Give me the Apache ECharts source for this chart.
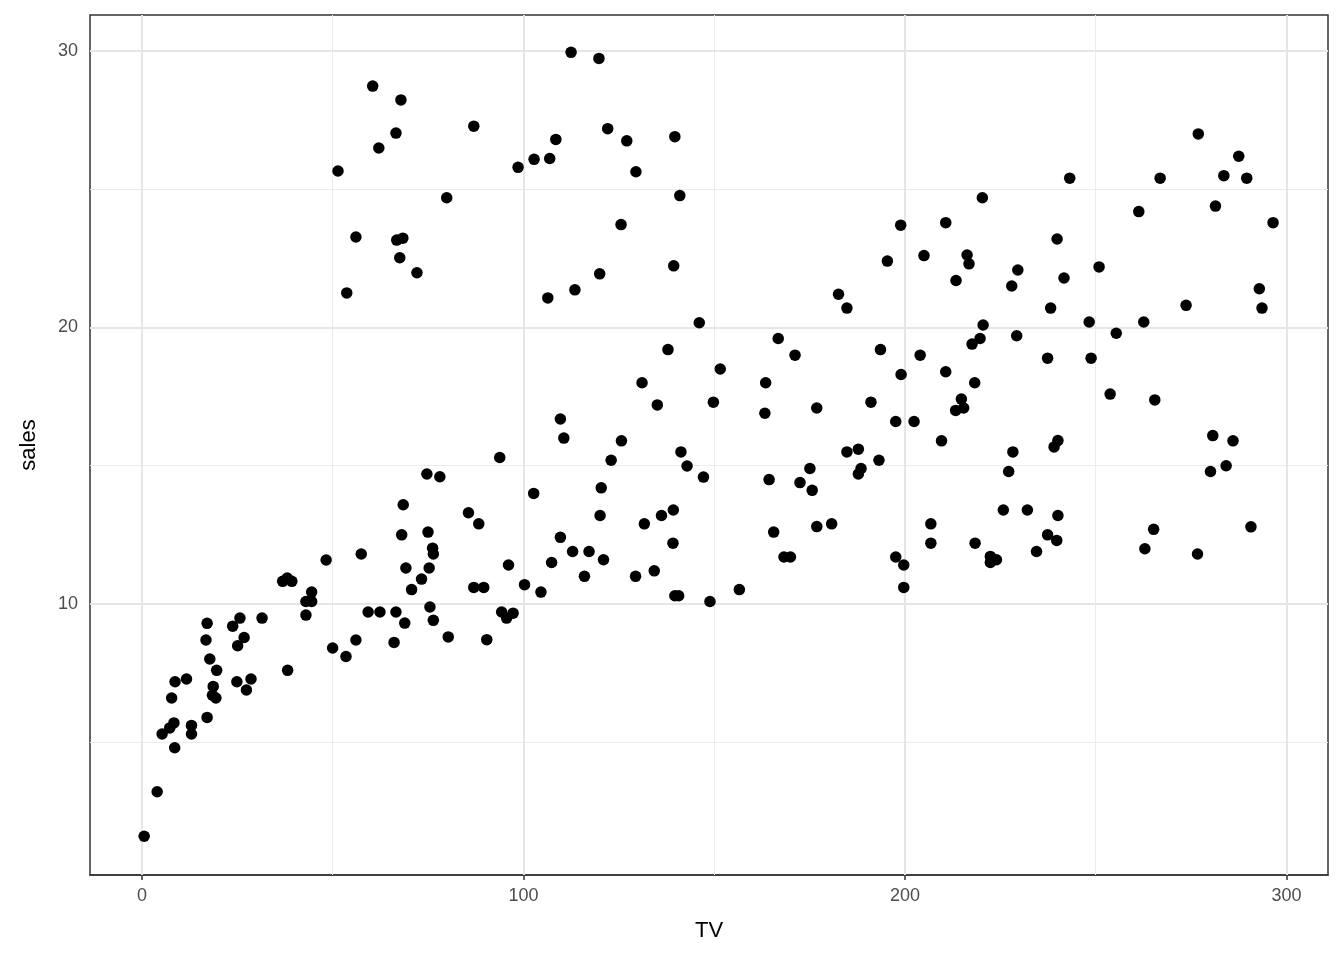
<!DOCTYPE html>
<html>
<head>
<meta charset="utf-8">
<script src="https://cdn.jsdelivr.net/npm/echarts@6/dist/echarts.min.js"></script>
<style>html,body{margin:0;padding:0;background:#fff}#c{width:1344px;height:960px}</style>
</head>
<body>
<div id="c"></div>
<script>
var tv = [60.5,62.1,66.6,67.9,51.4,56.1,66.8,68.4,67.6,72.1,53.7,79.9,87.0,98.6,102.8,106.9,108.5,112.5,119.8,122.1,127.1,129.5,139.7,141.0,125.6,106.4,113.5,120.0,139.4,
220.3,198.9,210.7,195.4,205.0,216.3,216.8,213.4,228.0,229.6,182.6,184.8,276.9,287.5,283.6,289.6,266.9,243.2,261.3,281.4,296.5,239.9,250.9,241.7,292.9,238.2,273.7,293.6,
166.8,171.2,151.6,163.5,149.8,163.3,176.9,193.6,204.0,199.0,220.5,219.7,217.6,229.3,210.7,218.3,214.8,213.3,215.4,191.1,197.6,202.4,209.6,184.8,187.8,193.2,188.5,187.8,175.1,164.4,172.5,175.7,165.6,176.9,180.8,168.3,170.0,156.6,197.6,199.7,199.7,206.8,206.8,218.4,225.8,228.3,227.2,222.4,224.0,222.4,
248.3,262.6,255.4,237.4,248.8,253.8,265.5,280.7,286.0,284.2,280.1,240.1,239.1,232.1,240.1,237.4,239.8,234.5,265.2,262.9,276.7,290.7,
68.5,68.1,74.7,78.1,85.6,88.3,75.0,76.2,76.4,69.2,75.3,73.3,70.7,87.0,89.6,96.1,93.8,100.3,104.6,102.7,109.7,110.6,123.0,125.7,120.4,120.1,109.7,112.9,117.2,121.0,107.4,116.0,129.4,134.3,131.7,136.2,139.3,139.2,139.7,140.7,146.1,137.9,131.1,135.1,141.3,142.9,147.2,148.9,
48.3,57.5,36.9,38.1,39.3,44.5,
0.6,4.0,8.6,5.3,7.3,8.4,13.0,13.0,17.1,7.8,8.7,11.7,18.7,18.5,19.4,19.6,17.8,16.8,17.1,24.9,28.6,27.4,25.1,26.8,23.8,25.7,31.5,38.2,43.0,43.0,44.5,50.0,53.5,56.1,59.3,62.4,66.1,66.6,
75.5,76.4,68.9,80.3,90.4,94.3,95.6,97.3];
var sales = [28.73,26.49,27.03,28.23,25.66,23.27,23.16,23.23,22.52,21.98,21.25,24.69,27.28,25.79,26.08,26.11,26.80,29.95,29.73,27.19,26.75,25.63,26.90,24.77,23.72,21.07,21.36,21.94,22.23,
24.69,23.70,23.79,22.40,22.60,22.62,22.30,21.70,21.50,22.08,21.20,20.70,27.00,26.19,25.49,25.40,25.40,25.40,24.19,24.39,23.79,23.20,22.19,21.79,21.40,20.70,20.80,20.70,
19.60,19.00,18.50,18.00,17.30,16.90,17.09,19.20,19.00,18.30,20.09,19.60,19.40,19.70,18.40,18.00,17.41,17.00,17.09,17.30,16.60,16.60,15.90,15.50,15.60,15.20,14.90,14.70,14.90,14.50,14.39,14.11,12.60,12.80,12.90,11.70,11.70,10.52,11.70,11.41,10.60,12.90,12.20,12.20,13.40,15.50,14.79,11.72,11.60,11.50,
20.20,20.20,19.79,18.89,18.89,17.59,17.38,16.09,15.90,15.00,14.79,15.91,15.68,13.40,13.20,12.50,12.30,11.90,12.70,12.00,11.81,12.79,
13.59,12.50,14.70,14.60,13.30,12.90,12.60,12.02,11.81,11.30,11.30,10.90,10.52,10.60,10.60,11.41,15.30,10.70,10.43,14.00,16.69,16.00,15.20,15.90,14.20,13.20,12.41,11.90,11.90,11.60,11.50,11.00,11.00,11.20,12.90,13.20,13.40,12.20,10.30,10.30,20.17,19.20,18.00,17.20,15.50,14.99,14.59,10.09,
11.59,11.81,10.82,10.94,10.82,10.43,
1.60,3.21,4.80,5.30,5.52,5.70,5.61,5.30,5.90,6.60,7.19,7.29,7.02,6.70,6.60,7.60,8.01,8.70,9.30,7.19,7.29,6.89,8.49,8.79,9.20,9.49,9.49,7.60,9.60,10.09,10.09,8.41,8.10,8.70,9.71,9.71,8.61,9.71,
9.89,9.41,9.31,8.81,8.71,9.71,9.49,9.67];

var xTicks = [0, 100, 200, 300];
var yTicks = [10, 20, 30];
var xMinor = [50, 150, 250];
var yMinor = [5, 15, 25];

var points = tv.map(function (v, i) { return [v, sales[i]]; });

var majorStyle = { color: '#E6E6E6', width: 2, type: 'solid', opacity: 1 };
var minorStyle = { color: '#EBEBEB', width: 1, type: 'solid', opacity: 1 };
var gridLines = []
  .concat(xMinor.map(function (v) { return { xAxis: v, lineStyle: minorStyle }; }))
  .concat(yMinor.map(function (v) { return { yAxis: v, lineStyle: minorStyle }; }))
  .concat(xTicks.map(function (v) { return { xAxis: v, lineStyle: majorStyle }; }))
  .concat(yTicks.map(function (v) { return { yAxis: v, lineStyle: majorStyle }; }));

var font = '"Liberation Sans", Arial, Helvetica, sans-serif';
var chart = echarts.init(document.getElementById('c'), null, { renderer: 'canvas' });
chart.setOption({
  animation: false,
  backgroundColor: '#ffffff',
  grid: { left: 90, right: 16, top: 15, bottom: 85, show: true, borderColor: '#333333', borderWidth: 1.5, backgroundColor: '#ffffff' },
  xAxis: {
    type: 'value', min: -13.6, max: 310.9,
    name: 'TV', nameLocation: 'middle', nameGap: 45,
    nameTextStyle: { color: '#000000', fontSize: 22, fontFamily: font },
    axisLine: { show: true, lineStyle: { color: '#333333', width: 1.5 } },
    axisTick: { show: true, customValues: xTicks, length: 5, lineStyle: { color: '#333333', width: 1.5 } },
    axisLabel: { show: true, customValues: xTicks, margin: 12, color: '#4D4D4D', fontSize: 18, fontFamily: font },
    splitLine: { show: false }
  },
  yAxis: {
    type: 'value', min: 0.2, max: 31.3,
    name: 'sales', nameLocation: 'middle', nameGap: 50, nameRotate: 90,
    nameTextStyle: { color: '#000000', fontSize: 22, fontFamily: font },
    axisLine: { show: true, lineStyle: { color: '#333333', width: 1.5 } },
    axisTick: { show: true, customValues: yTicks, length: 5, lineStyle: { color: '#333333', width: 1.5 } },
    axisLabel: { show: true, customValues: yTicks, margin: 12, color: '#4D4D4D', fontSize: 18, fontFamily: font },
    splitLine: { show: false }
  },
  series: [
    {
      type: 'scatter', data: [], z: 1, silent: true,
      markLine: { silent: true, symbol: ['none', 'none'], label: { show: false }, animation: false, data: gridLines }
    },
    {
      type: 'scatter', data: points, z: 5,
      symbol: 'circle', symbolSize: 11.5,
      itemStyle: { color: '#000000', opacity: 1 }
    }
  ]
});
</script>
</body>
</html>
